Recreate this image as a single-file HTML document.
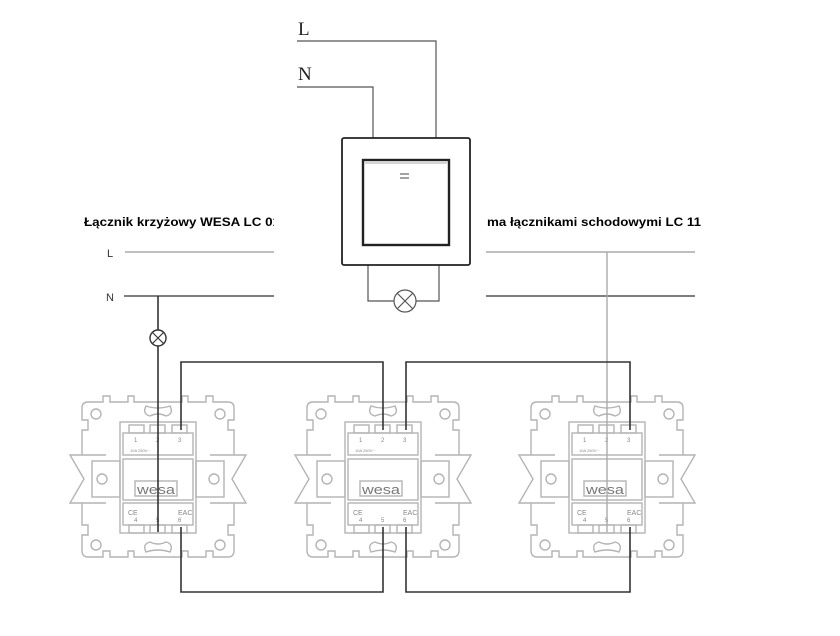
<!DOCTYPE html>
<html><head><meta charset="utf-8"><style>html,body{margin:0;padding:0;background:#fff}svg{display:block}</style></head>
<body>
<svg width="840" height="636" viewBox="0 0 840 636" xmlns="http://www.w3.org/2000/svg">
<defs>
<g id="mod" fill="none" stroke="#b4b4b4" stroke-width="1.4">
  <path d="M-70,402 H-55 V396 H-48 V402 H-30 V396 H-24 V402 H24 V396 H30 V402 H48 V396 H55 V402 H70 Q76,402 76,408 V420 H70 V430 H76 V455 M76,503 V525 H70 V535 H76 V550 Q76,557 70,557 H55 V551 H48 V557 H30 V551 H24 V557 H-24 V551 H-30 V557 H-48 V551 H-55 V557 H-70 Q-76,557 -76,550 V535 H-70 V525 H-76 V503 M-76,455 V430 H-70 V420 H-76 V408 Q-76,402 -70,402"/>
  <circle cx="-62" cy="414" r="5"/><circle cx="62" cy="414" r="5"/>
  <circle cx="-62" cy="545" r="5"/><circle cx="62" cy="545" r="5"/>
  <path d="M-12,406 Q-16,414 -8,416 Q0,412 8,416 Q16,414 12,406 Q0,410 -12,406Z"/>
  <path d="M-12,552 Q-16,544 -8,542 Q0,546 8,542 Q16,544 12,552 Q0,548 -12,552Z"/>
  <path d="M-52,455 H-88 L-74,479 L-88,503 H-52"/>
  <path d="M52,455 H88 L74,479 L88,503 H52"/>
  <rect x="-66" y="461" width="28" height="36"/><rect x="38" y="461" width="28" height="36"/>
  <circle cx="-56" cy="479" r="5"/><circle cx="56" cy="479" r="5"/>
  <rect x="-38" y="422" width="76" height="111"/>
  <rect x="-35" y="433" width="70" height="22"/>
  <rect x="-35" y="459" width="70" height="41"/>
  <rect x="-35" y="503" width="70" height="22"/>
  <rect x="-29" y="425" width="15" height="8"/><rect x="-8" y="425" width="15" height="8"/><rect x="14" y="425" width="15" height="8"/>
  <rect x="-29" y="525" width="15" height="8"/><rect x="-8" y="525" width="15" height="8"/><rect x="14" y="525" width="15" height="8"/>
  <rect x="-23" y="481" width="42" height="15"/>
</g>
<g id="modt" font-family="Liberation Sans, sans-serif" fill="#888">
  <text x="-24" y="442" font-size="6">1</text><text x="-2" y="442" font-size="6">2</text><text x="20" y="442" font-size="6">3</text>
  <text x="-28" y="452" font-size="4">10A 250V~</text>
  <text x="-21" y="494" font-size="13" fill="#777" textLength="38" lengthAdjust="spacingAndGlyphs">wesa</text>
  <text x="-30" y="515" font-size="7">CE</text><text x="20" y="515" font-size="7">EAC</text>
  <text x="-24" y="522" font-size="6">4</text><text x="-2" y="522" font-size="6">5</text><text x="20" y="522" font-size="6">6</text>
</g>
</defs>

<text x="84" y="226" font-family="Liberation Sans, sans-serif" font-weight="bold" font-size="12" textLength="196" lengthAdjust="spacingAndGlyphs">Łącznik krzyżowy WESA LC 01</text>
<text x="487" y="226" font-family="Liberation Sans, sans-serif" font-weight="bold" font-size="12" textLength="214" lengthAdjust="spacingAndGlyphs">ma łącznikami schodowymi LC 11</text>
<text x="107" y="257" font-family="Liberation Sans, sans-serif" font-size="11" fill="#333">L</text>
<text x="106" y="301" font-family="Liberation Sans, sans-serif" font-size="11" fill="#333">N</text>
<line x1="125" y1="252" x2="695" y2="252" stroke="#aaa" stroke-width="1.6"/>
<line x1="124" y1="296" x2="695" y2="296" stroke="#555" stroke-width="1.6"/>

<use href="#mod" transform="translate(158,0)"/><use href="#modt" transform="translate(158,0)"/>
<use href="#mod" transform="translate(383,0)"/><use href="#modt" transform="translate(383,0)"/>
<use href="#mod" transform="translate(607,0)"/><use href="#modt" transform="translate(607,0)"/>

<line x1="607" y1="252" x2="607" y2="532" stroke="#aaa" stroke-width="1.4"/>
<g fill="none" stroke="#333" stroke-width="1.6">
  <line x1="158" y1="296" x2="158" y2="330"/>
  <line x1="158" y1="346" x2="158" y2="532"/>
  <circle cx="158" cy="338" r="8" stroke-width="1.4"/>
  <path d="M152,332 L164,344 M164,332 L152,344" stroke-width="1.2"/>
  <path d="M181,430 V362 H383 V430"/>
  <path d="M406,430 V362 H630 V430"/>
  <path d="M181,527 V592 H383 V527"/>
  <path d="M406,527 V592 H630 V527"/>
</g>

<rect x="274" y="0" width="212" height="320" fill="#fff"/>
<text x="298" y="35" font-family="Liberation Serif, serif" font-size="19" fill="#222">L</text>
<text x="298" y="80" font-family="Liberation Serif, serif" font-size="19" fill="#222">N</text>
<g fill="none" stroke="#555" stroke-width="1.2">
  <path d="M297,41 H436 V138"/>
  <path d="M297,87 H373 V138"/>
  <path d="M368,265 V301 H394 M416,301 H439 V265"/>
  <circle cx="405" cy="301" r="11"/>
  <path d="M397,293 L413,309 M413,293 L397,309"/>
</g>
<rect x="342" y="138" width="128" height="127" rx="2" fill="none" stroke="#222" stroke-width="1.8"/>
<rect x="363" y="160" width="86" height="85" fill="none" stroke="#222" stroke-width="2.4"/>
<line x1="365" y1="163" x2="447" y2="163" stroke="#aaa" stroke-width="1"/>
<path d="M400,174 H409 M400,178 H409" stroke="#444" stroke-width="1"/>
</svg>
</body></html>
